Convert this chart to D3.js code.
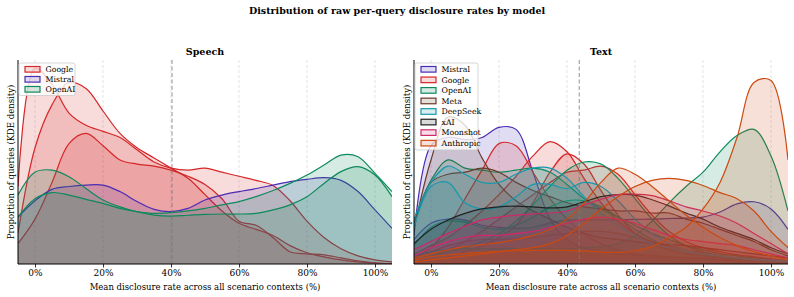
<!DOCTYPE html>
<html>
<head>
<meta charset="utf-8">
<script src="https://cdn.jsdelivr.net/npm/d3@7"></script>
<style>
  body { margin: 0; background: #fff; }
  svg { font-family: "DejaVu Serif", serif; }
</style>
</head>
<body>
<svg id="chart" width="794" height="297"></svg>
<script>
// sample positions (% disclosure rate) for every KDE curve below
const xGrid = [-5, 0, 5, 10, 15, 20, 25, 30, 35, 40, 45, 50, 55, 60, 65, 70, 75, 80, 85, 90, 95, 100, 105];
const xTicks = [0, 20, 40, 60, 80, 100];

const speechModels = ["Google", "Mistral", "OpenAI"];
const textModels = ["Mistral", "Google", "OpenAI", "Meta", "DeepSeek", "xAI", "Moonshot", "Anthropic"];

const speechMean = 40.3;
const textMean = 43.6;

// density, one array per model run
const speechGoogle = [
  [38, 96, 88, 74, 68, 65, 62, 56, 50, 47, 46, 47, 45, 43, 41, 38.5, 31, 21, 13, 7.5, 4, 2, 1],
  [15, 57, 78, 89, 86, 75, 64, 57, 52, 47, 42, 34, 26, 20, 17, 14, 9, 5.5, 3.5, 2, 1, 0.5, 0.2],
  [10, 22, 40, 59, 64, 58, 51, 49, 48, 46, 43, 39, 32, 21, 19, 13, 6, 5, 4.5, 3, 1.5, 0.6, 0.2]
];
const speechMistral = [
  [23, 31, 36.6, 38, 38.7, 38.7, 35.5, 30.6, 26.8, 25.7, 27.3, 31.4, 33.8, 35.5, 37, 38.7, 40.4, 41.5, 42.3, 41, 35.5, 26.5, 17.5]
];
const speechOpenAI = [
  [33.8, 45, 46, 42.8, 37, 31.4, 28, 25.6, 24, 23.5, 23.9, 24.3, 24.5, 24.5, 24.8, 26.5, 29, 33, 39.5, 45.3, 47.7, 43.6, 33],
  [23, 32, 35, 33.8, 31.7, 29.7, 27.3, 25.7, 24.8, 25.2, 26, 27.3, 29, 30.6, 33, 36, 39.5, 43.6, 48.5, 53.4, 52.6, 44.4, 35.5]
];

const textMistral = [
  [14, 58, 62, 61, 62, 67, 66, 45, 22, 12, 8, 6, 5, 4.5, 4, 3.5, 3, 3, 2.5, 2, 2, 1.5, 1],
  [12, 20, 22, 21.5, 19, 18, 17.5, 18, 20, 21.5, 21.6, 21.6, 21.7, 21.9, 22, 22.3, 22.5, 23, 25.5, 29.5, 30.5, 27, 17]
];
const textGoogle = [
  [3, 8, 18, 32, 46, 59, 58, 45, 32, 22, 15, 10, 7, 5, 4, 3.5, 3, 2.5, 2, 1.5, 1.2, 1, 0.8],
  [5, 9, 13, 19, 26, 34, 43, 53, 60, 55, 42, 30, 21, 15, 11, 8, 6, 4.5, 3.5, 2.5, 2, 1.5, 1],
  [1, 2, 3.5, 6, 9, 13, 19, 30, 45, 54, 49, 36, 24, 15, 10, 7, 5, 4, 3, 2.5, 2, 1.5, 1],
  [2, 4, 7, 11, 16, 22, 28, 34, 40, 45, 46, 48, 44, 34, 24, 16, 11, 8, 6, 4.5, 3.5, 2.5, 1.5],
  [3, 6, 9, 11, 12, 12, 12.5, 13, 14, 15, 16, 16, 15, 13, 11, 9, 7, 5.5, 4, 3, 2.5, 2, 1.5]
];
const textOpenAI = [
  [4, 6, 7, 7.5, 7.5, 7.5, 7.5, 7.5, 7.5, 7.5, 8, 8.5, 10, 14, 21, 30, 38, 45, 55, 63, 66, 53, 26],
  [20, 41, 51, 47, 46, 45, 46, 47, 45, 39, 32, 27, 23, 19, 15, 12, 9, 7, 5, 4, 3, 2, 1.5],
  [2, 4, 6, 8, 11, 15, 21, 29, 38, 46, 50, 49, 42, 32, 22, 14, 9, 6, 4, 3, 2, 1.5, 1],
  [9, 18, 21, 20.5, 18, 17, 19, 23, 28, 31, 31, 28, 23, 17, 12, 8, 6, 4.5, 3.5, 2.5, 2, 1.5, 1]
];
const textMeta = [
  [17, 51, 72, 68, 52, 39, 31, 26, 22, 18, 15, 13, 12, 11, 10, 9.5, 9, 8, 7, 6, 5, 4, 3],
  [20, 40, 44, 45, 47, 45, 40, 36, 33, 30, 28, 27, 26, 26, 25, 25, 22, 20, 17, 14, 11, 7, 4]
];
const textDeepSeek = [
  [22, 40, 48, 44, 40, 40, 44, 47, 47, 42, 33, 25, 19, 14, 10, 8, 6, 5, 4, 3, 2.5, 2, 1.5],
  [18, 38, 40, 30, 27, 28, 33, 39, 39, 37, 40, 38, 31, 22, 15, 10, 7, 5, 4, 3, 2, 1.5, 1]
];
const textXAI = [
  [10, 17, 21.6, 24.8, 27, 28, 28.4, 28, 27.5, 28, 30.5, 33, 34, 33.8, 31.5, 28.5, 25, 22, 18, 15, 12, 8, 5]
];
const textMoonshot = [
  [7, 11, 15, 18.5, 21.6, 23, 24, 24.6, 25, 26, 29, 31.7, 34, 34.3, 33.5, 31, 28, 26, 23.5, 20, 15, 10, 5],
  [4, 8, 11, 13, 14, 14, 15, 16, 18, 20, 22, 23, 22, 20, 17, 14, 12, 11, 10, 9, 7, 5, 3]
];
const textAnthropic = [
  [2, 3.6, 4.4, 5.2, 5.7, 6.2, 6.5, 6.7, 6.7, 6.7, 6.4, 5.9, 5.7, 6.5, 8.5, 13, 18, 27, 40, 62, 89, 90, 51],
  [1, 2, 3, 4, 5, 6, 7, 8, 10, 14, 20, 27, 33, 38, 41, 42, 41, 38.5, 35, 32, 26, 16, 8],
  [3, 5, 7, 8.5, 9.5, 10.5, 12, 14, 17, 22, 30, 40, 47, 44, 38, 31, 24, 18, 13, 9, 6, 4, 2]
];

const colors = {
  Google: "#d62728",
  Mistral: "#4a2db3",
  OpenAI: "#0d8a5b",
  Meta: "#6b3a2c",
  DeepSeek: "#1699ad",
  xAI: "#222222",
  Moonshot: "#d0286a",
  Anthropic: "#cc4a10"
};

const plotTop = 60, plotBottom = 264;
const svg = d3.select("#chart");
const y = d3.scaleLinear().domain([0, 100]).range([plotBottom, plotTop]);

svg.append("text")
  .attr("x", 397).attr("y", 14)
  .attr("text-anchor", "middle")
  .attr("font-size", "9.5px").attr("font-weight", "bold")
  .text("Distribution of raw per-query disclosure rates by model");

function drawPanel(opts) {
  const x = d3.scaleLinear().domain([-5, 105]).range([opts.left, opts.right]);
  const g = svg.append("g");

  svg.append("clipPath").attr("id", "clip-" + opts.id)
    .append("rect")
    .attr("x", opts.left).attr("y", plotTop)
    .attr("width", opts.right - opts.left).attr("height", plotBottom - plotTop);

  // vertical grid
  g.selectAll(".grid").data(xTicks).enter().append("line")
    .attr("x1", d => x(d)).attr("x2", d => x(d))
    .attr("y1", plotTop).attr("y2", plotBottom)
    .attr("stroke", "#dcdcdc").attr("stroke-width", 0.8)
    .attr("stroke-dasharray", "3,2");

  const area = d3.area()
    .x((d, i) => x(xGrid[i]))
    .y0(y(0))
    .y1(d => y(d))
    .curve(d3.curveCatmullRom.alpha(0.5));
  const line = area.lineY1();

  const curves = g.append("g").attr("clip-path", `url(#clip-${opts.id})`);
  opts.models.forEach(m => {
    opts.series[m].forEach(vals => {
      curves.append("path")
        .attr("d", area(vals))
        .attr("fill", colors[m]).attr("fill-opacity", 0.17);
      curves.append("path")
        .attr("d", line(vals))
        .attr("fill", "none")
        .attr("stroke", colors[m]).attr("stroke-width", 1.2);
    });
  });

  // mean line
  g.append("line")
    .attr("x1", x(opts.mean)).attr("x2", x(opts.mean))
    .attr("y1", plotTop).attr("y2", plotBottom)
    .attr("stroke", "#7a7a7a").attr("stroke-width", 1)
    .attr("stroke-dasharray", "4,2.5").attr("opacity", 0.8);

  // axes
  const xAxis = d3.axisBottom(x)
    .tickValues(xTicks)
    .tickFormat(d => d + "%")
    .tickSize(3.5).tickSizeOuter(0).tickPadding(2.5);
  const ax = g.append("g").attr("transform", `translate(0,${plotBottom})`).call(xAxis);
  ax.select(".domain").remove();
  ax.selectAll("text").attr("font-size", "9px").attr("font-family", "DejaVu Serif").attr("fill", "#000");
  ax.selectAll("line").attr("stroke", "#000").attr("stroke-width", 0.8);

  g.append("line")
    .attr("x1", opts.left).attr("x2", opts.right)
    .attr("y1", plotBottom).attr("y2", plotBottom)
    .attr("stroke", "#000").attr("stroke-width", 1);
  g.append("line")
    .attr("x1", opts.left).attr("x2", opts.left)
    .attr("y1", plotTop).attr("y2", plotBottom)
    .attr("stroke", "#000").attr("stroke-width", 1);

  g.append("text")
    .attr("x", (opts.left + opts.right) / 2).attr("y", 290)
    .attr("text-anchor", "middle").attr("font-size", "8.5px")
    .text("Mean disclosure rate across all scenario contexts (%)");
  g.append("text")
    .attr("transform", `translate(${opts.left - 4},${(plotTop + plotBottom) / 2}) rotate(-90)`)
    .attr("text-anchor", "middle").attr("font-size", "8.5px")
    .text("Proportion of queries (KDE density)");
  g.append("text")
    .attr("x", (opts.left + opts.right) / 2).attr("y", 55)
    .attr("text-anchor", "middle").attr("font-size", "9.5px").attr("font-weight", "bold")
    .text(opts.title);

  // legend
  const rowH = opts.rowH;
  const lg = g.append("g");
  lg.append("rect")
    .attr("x", opts.left + 1).attr("y", 63)
    .attr("width", opts.legendW).attr("height", opts.models.length * rowH + 2.5)
    .attr("rx", 2)
    .attr("fill", "#fff").attr("fill-opacity", 0.8)
    .attr("stroke", "#cccccc").attr("stroke-width", 0.8);
  opts.models.forEach((m, i) => {
    const cy = 63 + 6.3 + i * rowH;
    lg.append("rect")
      .attr("x", opts.left + 7).attr("y", cy - 2.8)
      .attr("width", 15).attr("height", 5.6)
      .attr("fill", colors[m]).attr("fill-opacity", 0.17)
      .attr("stroke", colors[m]).attr("stroke-width", 1.2);
    lg.append("text")
      .attr("x", opts.left + 27.5).attr("y", cy + 2.8)
      .attr("font-size", "7.8px")
      .text(m);
  });
}

drawPanel({
  id: "speech", title: "Speech", left: 18, right: 392, mean: speechMean,
  models: speechModels,
  series: { Google: speechGoogle, Mistral: speechMistral, OpenAI: speechOpenAI },
  rowH: 10, legendW: 56
});

drawPanel({
  id: "text", title: "Text", left: 414, right: 788, mean: textMean,
  models: textModels,
  series: {
    Mistral: textMistral, Google: textGoogle, OpenAI: textOpenAI, Meta: textMeta,
    DeepSeek: textDeepSeek, xAI: textXAI, Moonshot: textMoonshot, Anthropic: textAnthropic
  },
  rowH: 10.55, legendW: 63
});
</script>
</body>
</html>
